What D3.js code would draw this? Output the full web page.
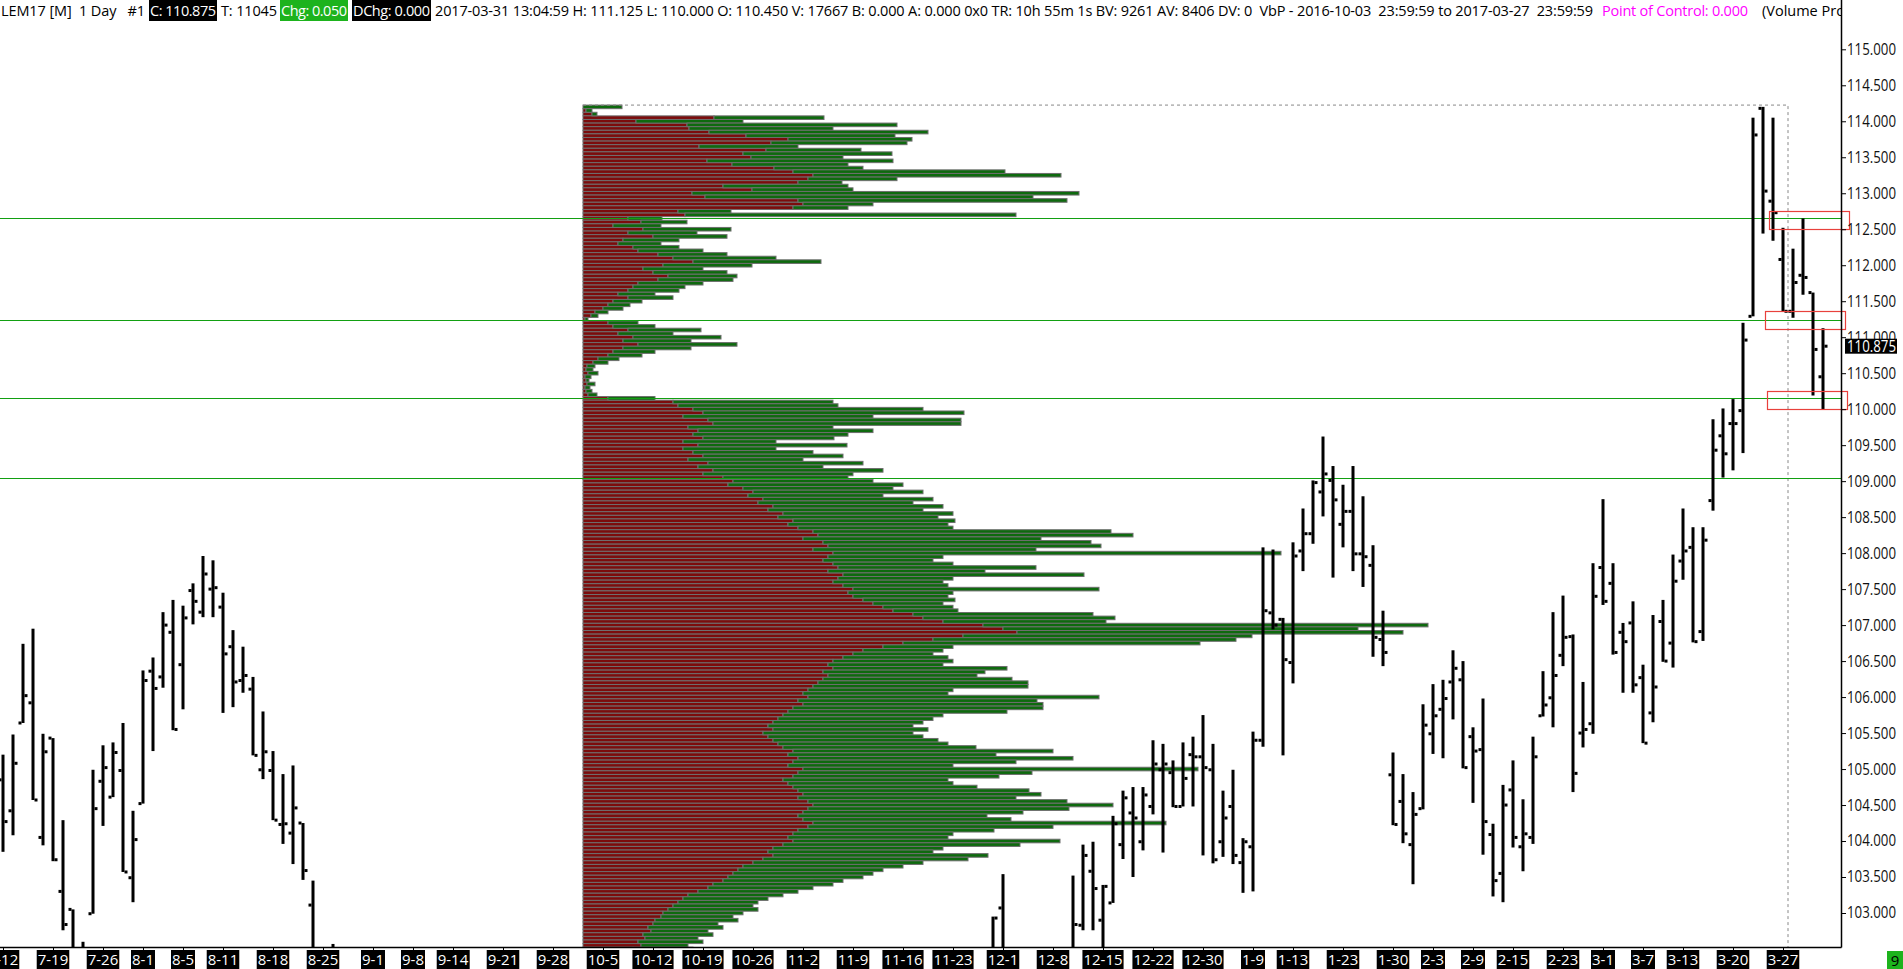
<!DOCTYPE html>
<html><head><meta charset="utf-8">
<script src="https://cdn.jsdelivr.net/npm/d3@7"></script>
<style>
html,body{margin:0;padding:0;background:#fff;overflow:hidden}
svg{display:block}
text{font-family:"Open Sans",sans-serif}
</style></head><body>
<svg id="chart" width="1903" height="969"></svg>
<script>
// ---------------- DATA ----------------
const holidays = ["2016-09-05","2016-11-24","2016-12-26","2017-01-02","2017-01-16","2017-02-20"];
const barDates = ["2016-07-12","2016-07-13","2016-07-14","2016-07-15","2016-07-18","2016-07-19","2016-07-20","2016-07-21","2016-07-22","2016-07-25","2016-07-26","2016-07-27","2016-07-28","2016-07-29","2016-08-01","2016-08-02","2016-08-03","2016-08-04","2016-08-05","2016-08-08","2016-08-09","2016-08-10","2016-08-11","2016-08-12","2016-08-15","2016-08-16","2016-08-17","2016-08-18","2016-08-19","2016-08-22","2016-08-23","2016-08-24","2016-08-26",
"2016-11-30","2016-12-01","2016-12-12","2016-12-13","2016-12-14","2016-12-15","2016-12-16","2016-12-19","2016-12-20","2016-12-21","2016-12-22","2016-12-23","2016-12-27","2016-12-28","2016-12-29","2016-12-30",
"2017-01-03","2017-01-04","2017-01-05","2017-01-06","2017-01-09","2017-01-10","2017-01-11","2017-01-12","2017-01-13","2017-01-17","2017-01-18","2017-01-19","2017-01-20","2017-01-23","2017-01-24","2017-01-25","2017-01-26","2017-01-27","2017-01-30","2017-01-31",
"2017-02-01","2017-02-02","2017-02-03","2017-02-06","2017-02-07","2017-02-08","2017-02-09","2017-02-10","2017-02-13","2017-02-14","2017-02-15","2017-02-16","2017-02-17","2017-02-21","2017-02-22","2017-02-23","2017-02-24","2017-02-27","2017-02-28",
"2017-03-01","2017-03-02","2017-03-03","2017-03-06","2017-03-07","2017-03-08","2017-03-09","2017-03-10","2017-03-13","2017-03-14","2017-03-15","2017-03-16","2017-03-17","2017-03-20","2017-03-21","2017-03-22","2017-03-23","2017-03-24","2017-03-27","2017-03-28","2017-03-29","2017-03-30","2017-03-31"];
const opens = [104.85,104.42,105.64,105.92,104.05,105.43,103.30,103.05,102.40,102.99,104.83,104.61,104.98,103.49,104.52,106.36,106.28,106.90,106.45,107.48,107.18,107.50,107.25,106.70,106.23,106.11,104.99,104.98,104.23,104.11,104.25,103.11,102.40,
102.30,103.07,102.40,102.83,103.58,102.90,103.14,103.95,104.39,103.99,104.48,104.99,104.95,104.48,105.20,105.17,
104.99,103.99,104.48,103.70,103.92,105.40,107.17,107.08,106.48,108.03,108.27,108.85,109.01,108.40,108.58,107.99,107.83,106.80,104.92,104.55,
103.95,104.45,105.49,105.83,106.21,106.24,105.45,105.27,104.09,103.55,104.71,103.92,104.05,105.74,105.99,106.58,106.84,105.50,105.63,
107.80,107.58,106.90,107.03,106.27,105.78,107.05,106.75,107.89,108.08,106.91,108.73,109.63,109.80,109.98,111.29,114.18,112.89,112.08,111.36,111.86,111.62,110.45];
const highs = [105.20,105.48,106.74,106.95,105.49,105.43,104.29,103.05,102.60,104.99,105.33,105.37,105.64,104.42,106.37,106.55,107.18,107.35,107.27,107.58,107.96,107.90,107.45,106.93,106.70,106.28,105.80,105.25,104.93,105.05,104.25,103.45,102.57,
102.95,103.54,103.52,103.95,103.99,103.39,104.35,104.70,104.75,104.75,105.40,105.35,105.12,105.37,105.45,105.75,
105.35,104.70,104.99,104.04,105.52,108.08,108.05,107.10,108.15,108.62,109.01,109.62,109.21,108.95,109.21,108.79,108.11,107.20,105.23,104.93,
104.68,105.90,106.18,106.24,106.65,106.50,105.58,105.98,104.24,104.78,105.12,104.58,105.45,106.36,107.18,107.41,106.87,106.21,107.86,
108.75,107.86,107.03,107.33,106.45,107.14,107.35,107.98,108.62,108.36,108.36,109.86,110.01,110.14,111.20,114.05,114.20,114.05,112.52,112.23,112.65,111.62,111.125];
const lows = [103.85,104.08,105.64,104.57,103.94,103.72,102.76,102.20,102.00,102.99,104.21,104.61,103.57,103.15,104.52,105.25,106.13,105.54,105.83,107.01,107.11,107.11,105.78,105.86,106.06,105.19,104.86,104.29,103.96,103.68,103.46,102.30,102.10,
102.20,102.20,102.30,102.76,102.76,102.40,103.14,103.75,103.50,103.87,104.37,103.84,104.47,104.48,104.48,103.80,
103.69,103.78,103.68,103.28,103.30,105.31,106.94,105.19,106.19,107.75,108.13,108.51,107.66,108.08,107.75,107.53,106.56,106.43,104.22,103.97,
103.40,104.44,105.21,105.15,105.69,105.01,104.53,103.81,103.23,103.15,103.91,103.58,103.96,105.73,105.58,106.43,104.68,105.30,105.49,
107.28,106.59,106.06,106.06,105.36,105.65,106.49,106.41,107.63,106.76,106.78,108.59,109.05,109.15,109.39,111.29,112.44,112.34,111.36,111.27,111.59,110.19,110.00];
const closes = [104.27,105.08,106.02,104.57,105.24,103.74,102.84,102.40,102.30,104.45,105.02,105.23,103.57,104.02,106.23,106.12,107.00,105.55,107.10,107.33,107.71,107.52,106.60,106.21,106.30,105.19,105.24,104.29,104.24,104.46,103.59,102.40,102.20,
102.93,102.40,102.84,103.80,103.34,103.37,104.24,104.60,104.32,104.64,105.07,105.07,104.48,104.87,105.17,105.02,
103.74,104.32,103.80,103.99,105.40,107.20,107.00,106.52,107.96,108.27,108.98,109.10,108.74,108.58,107.99,107.95,106.83,106.62,104.23,104.10,
104.37,105.61,105.74,105.98,106.40,105.02,105.25,104.27,103.45,104.50,104.05,104.10,105.17,105.89,106.30,106.83,104.94,105.55,107.40,
107.33,106.62,106.77,106.17,105.36,106.14,106.50,107.61,108.03,106.77,108.18,109.43,109.38,109.80,110.96,113.81,113.03,112.73,111.36,111.76,111.83,110.83,110.875];

const dateLabels = ["2016-07-12","2016-07-19","2016-07-26","2016-08-01","2016-08-05","2016-08-11","2016-08-18","2016-08-25","2016-09-01","2016-09-08","2016-09-14","2016-09-21","2016-09-28","2016-10-05","2016-10-12","2016-10-19","2016-10-26","2016-11-02","2016-11-09","2016-11-16","2016-11-23","2016-12-01","2016-12-08","2016-12-15","2016-12-22","2016-12-30","2017-01-09","2017-01-13","2017-01-23","2017-01-30","2017-02-03","2017-02-09","2017-02-15","2017-02-23","2017-03-01","2017-03-07","2017-03-13","2017-03-20","2017-03-27"];
const priceTicks = [103,103.5,104,104.5,105,105.5,106,106.5,107,107.5,108,108.5,109,109.5,110,110.5,111,111.5,112,112.5,113,113.5,114,114.5,115];
const greenLevels = [112.65,111.235,110.155,109.045];
const redBoxes = [[112.76,112.51],[111.36,111.11],[110.25,110.00]];
const lastPrice = 110.875;

// Volume-by-price profile (2016-10-03 .. 2017-03-27), one row per 0.05 from 114.20 downward
const profileTop = 114.20;
const profileBid = [
0,3,9,131,53,104,106,126,163,205,188,116,183,160,168,124,149,191,210,230,225,215,140,169,109,122,215,220,210,95,102,45,58,
30,60,45,70,40,35,50,55,75,90,110,80,60,70,85,75,55,50,45,35,45,30,25,20,12,8,2,
25,30,45,35,50,40,55,40,30,25,15,10,
4,3,5,2,3,4,2,3,5,25,
90,95,110,120,100,125,130,105,115,110,120,100,115,100,110,120,105,125,115,130,120,
140,150,145,160,170,165,180,175,190,185,200,195,210,205,215,230,235,220,240,245,230,250,245,240,250,255,245,260,255,250,260,270,265,
270,280,290,300,310,330,340,360,400,420,434,380,350,
320,300,280,270,260,250,245,250,240,245,240,235,230,225,220,225,215,220,210,205,200,195,190,185,190,180,185,190,
195,200,210,205,215,210,205,220,215,210,200,205,210,215,220,215,225,230,225,220,215,220,230,225,215,210,205,210,
200,190,185,190,180,170,160,155,150,145,140,130,125,115,105,100,95,90,85,80,78,72,70,65,68,60,62,55,58,50,52];
const profileTotal = [
39,9,14,241,160,314,250,345,312,329,324,215,278,309,260,310,265,280,422,478,314,259,265,270,496,450,484,290,265,148,433,79,104,
78,148,114,144,96,78,96,120,144,193,238,169,120,144,154,150,120,102,96,72,90,59,47,40,25,15,5,
55,72,118,90,138,108,154,108,72,59,36,25,
12,10,15,8,6,12,7,9,14,72,
250,255,340,381,290,378,378,250,290,265,251,193,264,193,230,260,220,280,240,300,270,
265,290,320,310,340,300,350,330,360,340,370,355,372,365,370,528,550,458,508,518,453,698,360,350,370,453,402,501,370,360,365,516,370,
365,372,360,370,375,510,532,523,845,775,820,669,653,
617,370,360,350,365,370,360,424,402,394,429,445,445,370,365,516,454,460,460,424,360,350,340,330,345,330,340,355,
365,393,470,413,490,433,370,615,449,416,365,370,394,446,458,433,484,530,486,440,404,428,583,470,411,370,365,477,
437,360,350,405,385,340,320,300,290,280,260,250,230,215,200,185,175,170,175,160,150,155,135,140,125,130,115,120,105,110,95,100];

const headerLeft = "LEM17 [M]  1 Day   #1";
const headerC = "C: 110.875", headerT = "T: 11045", headerChg = "Chg: 0.050", headerDChg = "DChg: 0.000";
const headerMid = "2017-03-31 13:04:59 H: 111.125 L: 110.000 O: 110.450 V: 17667 B: 0.000 A: 0.000 0x0 TR: 10h 55m 1s BV: 9261 AV: 8406 DV: 0  VbP - 2016-10-03  23:59:59 to 2017-03-27  23:59:59";
const headerPOC = "Point of Control: 0.000";
const headerTail = "(Volume Profile)";

// ---------------- CHART ----------------
const W = 1903, H = 969, plotR = 1841, plotB = 947;
const parse = d3.timeParse("%Y-%m-%d"), fmt = d3.timeFormat("%Y-%m-%d");
const days = d3.timeDays(parse("2016-07-12"), parse("2017-04-01"))
  .filter(d => d.getDay() % 6 !== 0 && !holidays.includes(fmt(d))).map(fmt);
const x = d3.scalePoint().domain(days).range([3, 3 + (days.length - 1) * 10]);
const y = d3.scaleLinear().domain([103, 115]).range([913, 49.3]);
const vol = d3.scaleLinear().domain([0, 1000]).range([0, 1000]);

const svg = d3.select("#chart");
const defs = svg.append("defs");
defs.append("clipPath").attr("id", "plotClip").append("rect").attr("x", 0).attr("y", 0).attr("width", plotR).attr("height", plotB);
defs.append("clipPath").attr("id", "headClip").append("rect").attr("x", 0).attr("y", 0).attr("width", plotR).attr("height", 30);

const plot = svg.append("g").attr("clip-path", "url(#plotClip)");

// volume profile
const profX0 = x("2016-10-03");
const profRight = x("2017-03-27") + 5;
const rowH = y(0) - y(0.05);
const prof = plot.append("g");
const rows = profileBid.map((b, i) => ({p: profileTop - i * 0.05, bid: b, tot: profileTotal[i]}));
prof.selectAll("rect.bid").data(rows).join("rect")
  .attr("x", profX0).attr("y", d => y(d.p + 0.025)).attr("height", rowH)
  .attr("width", d => Math.max(0, vol(d.bid)))
  .attr("fill", "#7c0c0c").attr("stroke", "#6e6e6e").attr("stroke-width", 1);
prof.selectAll("rect.ask").data(rows).join("rect")
  .attr("x", d => profX0 + vol(d.bid)).attr("y", d => y(d.p + 0.025)).attr("height", rowH)
  .attr("width", d => Math.max(0, vol(d.tot - d.bid)))
  .attr("fill", "#0e6a0e").attr("stroke", "#6e6e6e").attr("stroke-width", 1);

// dashed profile range outline
const topY = y(profileTop + 0.025);
plot.append("path")
  .attr("d", `M${profX0},${topY}H${profRight}V${plotB}`)
  .attr("fill", "none").attr("stroke", "#888").attr("stroke-dasharray", "3,3").attr("stroke-width", 1);

// green horizontal lines
plot.selectAll("line.g").data(greenLevels).join("line")
  .attr("x1", 0).attr("x2", plotR).attr("y1", d => Math.round(y(d)) + 0.5).attr("y2", d => Math.round(y(d)) + 0.5)
  .attr("stroke", "#12a012").attr("stroke-width", 1.2);

// OHLC bars
const bars = barDates.map((d, i) => ({d, o: opens[i], h: highs[i], l: lows[i], c: closes[i]}));
const bg = plot.append("g").attr("fill", "#000");
bg.selectAll("rect.hl").data(bars).join("rect")
  .attr("x", d => x(d.d) - 1.5).attr("width", 3)
  .attr("y", d => y(d.h)).attr("height", d => Math.max(1, y(d.l) - y(d.h)));
bg.selectAll("rect.o").data(bars).join("rect")
  .attr("x", d => x(d.d) - 4.5).attr("width", 3)
  .attr("y", d => y(d.o) - 1.5).attr("height", 3);
bg.selectAll("rect.c").data(bars).join("rect")
  .attr("x", d => x(d.d) + 1.5).attr("width", 3)
  .attr("y", d => y(d.c) - 1.5).attr("height", 3);

// red boxes
svg.selectAll("rect.rb").data(redBoxes).join("rect")
  .attr("x", (d, i) => [1769.5, 1765.5, 1767.5][i]).attr("width", 80)
  .attr("y", d => Math.round(y(d[0])) + 0.5).attr("height", d => Math.round(y(d[1]) - y(d[0])))
  .attr("fill", "none").attr("stroke", "#e8413c").attr("stroke-width", 1.2);

// axes lines
svg.append("line").attr("x1", plotR + 0.5).attr("x2", plotR + 0.5).attr("y1", 0).attr("y2", plotB + 0.5).attr("stroke", "#000").attr("stroke-width", 1.5);
svg.append("line").attr("x1", 0).attr("x2", plotR + 0.5).attr("y1", plotB + 0.5).attr("y2", plotB + 0.5).attr("stroke", "#000").attr("stroke-width", 1.5);

// right price axis
const ya = svg.append("g").attr("transform", `translate(${plotR},0)`)
  .call(d3.axisRight(y).tickValues(priceTicks).tickFormat(d3.format(".3f")).tickSize(5).tickPadding(1));
ya.select(".domain").remove();
ya.selectAll("line").attr("stroke", "#000");
ya.selectAll("text").attr("font-family", "Open Sans").attr("font-size", 15.5).attr("fill", "#111")
  .attr("textLength", 49).attr("lengthAdjust", "spacingAndGlyphs");

// last price label
const lp = svg.append("g");
lp.append("rect").attr("x", 1845).attr("y", y(lastPrice) - 7.5).attr("width", 52).attr("height", 15).attr("fill", "#000");
lp.append("text").attr("x", 1847).attr("y", y(lastPrice)).attr("dy", "0.35em").attr("fill", "#fff")
  .attr("font-size", 15.5).attr("textLength", 49).attr("lengthAdjust", "spacingAndGlyphs")
  .text(d3.format(".3f")(lastPrice));

// bottom date axis
const xa = svg.append("g").attr("transform", `translate(0,${plotB})`);
xa.selectAll("line").data(dateLabels).join("line")
  .attr("x1", d => x(d) + 0.5).attr("x2", d => x(d) + 0.5).attr("y1", 0).attr("y2", 4).attr("stroke", "#000");
const lab = xa.selectAll("g.lab").data(dateLabels).join("g").attr("class", "lab");
lab.append("text").attr("x", d => x(d)).attr("y", 18).attr("text-anchor", "middle")
  .attr("fill", "#fff").attr("font-size", 15)
  .text(d => { const t = parse(d); return (t.getMonth() + 1) + "-" + t.getDate(); });
lab.each(function() {
  const g = d3.select(this), bb = g.select("text").node().getBBox();
  g.insert("rect", "text").attr("x", bb.x - 1).attr("y", 3).attr("width", bb.width + 2).attr("height", 22).attr("fill", "#000");
});
// corner box
svg.append("rect").attr("x", 1887).attr("y", 951).attr("width", 16).attr("height", 18).attr("fill", "#1db31d");
svg.append("text").attr("x", 1895).attr("y", 966).attr("text-anchor", "middle").attr("font-size", 15).attr("fill", "#000").text("9");

// header
const hd = svg.append("g").attr("clip-path", "url(#headClip)").attr("font-size", 14.5).style("white-space", "pre");
function htext(xp, s, fill, len) {
  const t = hd.append("text").attr("x", xp).attr("y", 16).attr("fill", fill).attr("xml:space", "preserve").text(s);
  if (len) t.attr("textLength", len).attr("lengthAdjust", "spacing");
  return t;
}
function hbox(x0, x1, s, bgc) {
  hd.append("rect").attr("x", x0).attr("y", 0).attr("width", x1 - x0).attr("height", 21).attr("fill", bgc);
  htext(x0 + 1, s, "#fff", x1 - x0 - 2);
}
htext(1, headerLeft, "#000", 144);
hbox(149, 217, headerC, "#000");
htext(221, headerT, "#000", 56);
hbox(280, 348, headerChg, "#1db31d");
hbox(352, 431, headerDChg, "#000");
htext(435, headerMid, "#000", 1158);
htext(1602, headerPOC, "#ff00ff", 146);
htext(1762, headerTail, "#000");
</script>
</body></html>
